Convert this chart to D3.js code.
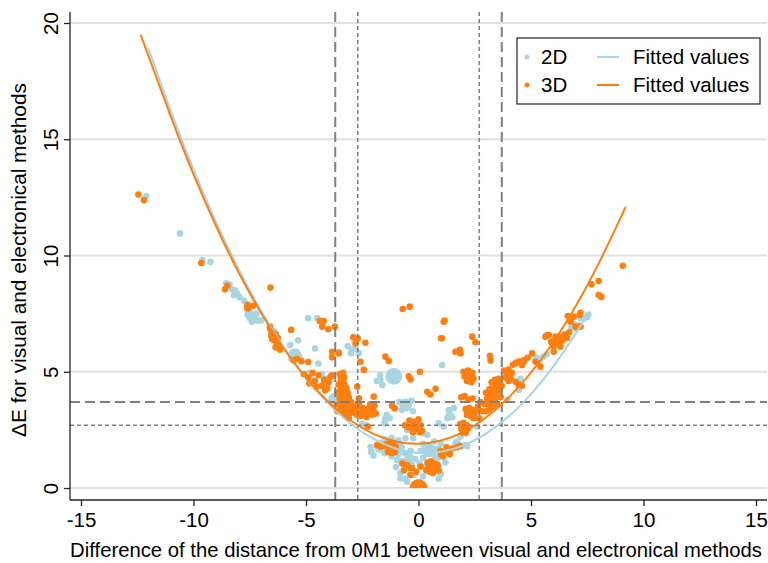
<!DOCTYPE html>
<html>
<head>
<meta charset="utf-8">
<script src="https://cdn.jsdelivr.net/npm/d3@7"></script>
<style>
  body { margin: 0; background: #fff; }
  svg { display: block; font-family: "Liberation Sans", Arial, sans-serif; }
  .tick text { font-size: 20.5px; fill: #000; }
</style>
</head>
<body>
<script>
// ---- data ----
const xTicks = [-15, -10, -5, 0, 5, 10, 15];
const yTicks = [0, 5, 10, 15, 20];
const refX = [[-3.7, "long"], [-2.7, "short"], [2.7, "short"], [3.7, "long"]];
const refY = [[3.7, "long"], [2.7, "short"]];

// [x, y, weight]
const pts2D = [
  [-12.1,12.55],[-10.6,10.95],[-9.6,9.8],[-9.25,9.72],
  [-8.55,8.8],[-8.4,8.75],[-8.3,8.55],[-8.15,8.5],[-8.05,8.35],[-8.2,8.3],[-7.95,8.2],[-7.75,8.05],
  [-7.55,7.6],[-7.45,7.5],[-7.35,7.4],[-7.5,7.3],[-7.3,7.25],[-7.2,7.5],[-7.6,7.45],[-7.15,7.2],[-7.4,7.15],[-7.0,7.2],
  [-6.45,6.65,3],[-5.7,6.15],[-5.35,6.35],[-5.5,5.7,5],[-5.25,5.55],[-5.65,5.55],
  [-4.9,7.3],[-4.5,7.3],[-4.6,6.0],[-4.45,5.35],[-4.85,4.95],[-4.75,4.8],
  [-4.3,4.9],[-4.1,4.7],[-3.95,4.6],[-4.2,4.5],
  [-3.7,3.8,5],[-3.85,3.6],[-3.55,3.55],
  [-3.15,6.1],[-2.95,5.95],[-2.65,5.8],[-3.0,5.8],[-2.8,6.0],[-3.55,5.85],
  [-2.5,2.75],[-2.35,2.7],
  [-1.7,4.85],[-1.7,4.65],[-1.6,4.43],[-1.85,4.6],
  [-1.1,4.8,7],
  [-0.58,3.57,4],[-0.85,3.7],[-0.3,3.75],[-0.75,3.35],[-0.25,3.3],
  [-1.17,3.57],[-1.4,3.15],[-1.47,3.0],[-1.28,3.0],[-1.5,2.78],
  [-0.5,2.49],[-0.58,2.14],[-0.24,2.14],
  [0.9,2.78],[1.28,3.0],[1.35,3.14],[1.12,2.64],[1.35,3.35],[1.42,3.14],[1.57,3.43],[1.5,3.04],
  [0.24,2.35],[0.39,2.28],[1.05,5.29],[2.6,2.64],
  [1.87,2.21],[1.64,1.92],[2.09,1.85],[1.72,1.99],[2.16,1.8],
  [-1.25,1.8,6],[-1.6,1.9,2],[-1.5,2.1],[-1.2,2.15],[-0.9,2.05],[-0.8,1.75,2],[-0.9,1.45],[-1.2,1.35],
  [-1.5,1.5],[-1.75,1.7,2],[-2.13,1.76],[-2.1,1.55],[-2.0,1.4],
  [-0.95,1.2],[-1.0,0.9],[-0.8,0.65],[-0.6,0.4],[-0.5,0.27],[-0.2,0.56],[-0.8,0.42],[-0.4,1.3,2],[-0.6,1.5],[-0.3,1.0],
  [-0.7,1.1,2],[-0.35,1.6],[-0.15,1.25],
  [0.46,1.63,5],[0.2,1.9],[0.1,1.6],[0.2,1.3],[0.5,1.1],[0.8,1.3,2],[0.85,1.7],[0.7,2.0],[1.0,1.9],[1.1,1.5],
  [0.9,0.9],[0.6,0.7],[0.3,0.9],[1.0,0.6],[0.9,0.4],[0.2,0.5],[1.2,1.1],[0.05,1.05],
  [3.94,3.78],[4.46,4.22],[4.53,4.7],
  [5.25,5.6],[5.4,5.5],[5.55,5.65],[5.7,5.75],[5.35,5.35],
  [7.2,7.3],[7.35,7.3],[7.5,7.35],[7.55,7.45],[6.9,7.05],[6.8,6.9],[7.0,6.85],[7.1,7.0]
];

const pts3D = [
  [-12.45,12.62],[-12.2,12.38],[-9.65,9.68],[-8.6,8.55],[-8.5,8.7],
  [-7.6,7.88],[-7.58,7.72],[-7.35,7.84],[-7.62,7.75],
  [-6.58,8.62],[-6.6,6.94],[-5.66,6.8],
  [-6.6,6.85],[-6.5,6.7],[-6.45,6.5],[-6.35,6.6],[-6.4,6.35],[-6.3,6.25],[-6.25,6.45],[-6.2,6.1],
  [-6.15,5.95],[-6.5,6.4],[-6.55,6.55],[-6.35,6.05],
  [-5.55,5.5],[-5.2,5.45],[-4.9,5.42],[-5.4,5.55],
  [-4.39,7.18],[-4.21,7.18],[-4.28,6.94],[-4.01,6.83],[-3.72,6.94],
  [-3.84,5.86],[-3.54,5.79],[-3.84,5.62],
  [-2.9,6.48],[-2.7,6.44],[-2.8,6.22],[-2.36,6.25],
  [-2.58,5.43],[-2.43,5.08],
  [-5.1,4.9],[-4.9,4.75],[-4.7,4.95],[-4.6,4.6],[-4.45,4.85],[-4.3,4.4],[-4.2,4.65],[-4.05,4.3],
  [-4.55,4.35],[-4.85,4.5],[-4.0,4.55],[-4.15,4.2],
  [-3.91,4.79],[-3.84,4.85],
  [-3.5,4.9],[-3.35,4.95],[-3.3,4.75],[-3.45,4.6],[-3.55,4.45],[-3.3,4.5],[-3.2,4.3],[-3.45,4.25],
  [-3.6,4.1],[-3.35,4.05],[-3.15,4.1],[-3.5,3.85],[-3.3,3.8],[-3.1,3.9],[-3.55,3.6],[-3.4,3.55],
  [-3.2,3.6],[-3.0,3.7],[-3.45,3.35],[-3.25,3.35],[-3.05,3.45],[-2.9,3.55],[-3.6,3.3],[-3.3,3.15],[-3.1,3.2],
  [-3.4,4.4],[-3.25,4.2],[-3.4,3.95],[-3.2,3.75],[-3.35,3.45],[-3.15,3.5],[-3.5,4.15],[-3.45,4.75],
  [-2.85,3.35],[-2.7,3.5],[-2.6,3.3],[-2.5,3.45],[-2.4,3.2],[-2.3,3.4],[-2.2,3.25],[-2.1,3.45],
  [-2.0,3.3],[-1.9,3.2],[-2.75,3.15],[-2.55,3.1],[-2.3,3.05],[-1.95,3.55],[-2.65,3.65],[-2.15,3.6],
  [-2.95,3.25],[-2.8,3.45],[-2.45,3.35],[-2.05,3.15],
  [-2.72,4.36],[-2.65,3.86],[-1.99,3.93],[-2.24,2.64],[-3.1,3.0],[-3.47,3.57],
  [-0.7,7.7],[-0.39,7.8],[1.12,7.15],[1.0,6.44],
  [-1.47,5.65],[-1.32,5.46],
  [-0.43,4.8],[-0.35,4.67],[0.06,5.0],
  [0.39,4.14],[0.53,4.02],[0.76,4.27],
  [-1.17,3.53],[-1.05,3.42],
  [-0.4,2.9],[-0.2,2.85],[0,2.95],[-0.3,2.65],[-0.1,2.55],[0.1,2.7],[-0.45,2.6],[0.15,2.45],
  [-0.05,2.75],[-0.25,2.4],[-0.6,2.7],[0.05,2.4],
  [-1.4,1.9],[-1.25,1.95],[-1.1,1.85],[-1.3,1.7],[-1.15,1.65],[-1.0,1.75],[-1.35,1.55],[-1.2,1.5],
  [-1.05,1.55],[-1.84,1.85],[-1.69,1.78],[-1.5,1.8],[-1.2,1.75,3],
  [-0.72,1.06],[-0.5,0.99],[-0.65,0.77],[-0.36,0.56],[-0.28,0.85],[-0.36,0.85],[0.09,0.92],[-0.1,0.7],
  [0.4,1.1],[0.55,1.15],[0.7,1.05],[0.85,1.0],[0.45,0.9],[0.6,0.85],[0.75,0.8],[0.9,0.75],
  [0.5,0.7],[0.65,0.65],[0.35,0.75],[0.6,0.95,2],
  [1.0,1.45],[1.2,1.55],[1.35,1.65],[1.5,1.7],[1.7,1.75],[1.1,1.35],[1.4,1.45],[1.85,1.8],[0.98,1.6],[1.25,1.75],
  [0,0,8],
  [1.16,7.2],[1.05,6.44],[2.39,6.51],[2.53,6.27],[1.64,5.86],[1.84,5.94],[1.87,5.79],[3.17,5.69],[3.2,5.48],
  [2.0,5.0],[2.2,5.05],[2.4,4.95],[2.05,4.8],[2.25,4.75],[2.45,4.7],[2.15,4.6],[2.35,4.55],[2.1,4.9],[2.3,4.9],
  [2.22,4.82,3],
  [1.9,3.9],[2.05,3.95],[2.2,3.8],[2.4,3.85],
  [2.1,3.4],[2.25,3.45],[2.4,3.35],[2.5,3.2],[2.15,3.15],[2.3,3.1],[2.45,3.0],[2.2,3.3],[2.35,3.25],[2.6,3.35],
  [2.3,3.25,3],
  [1.85,2.75],[2.0,2.8],[2.15,2.7],[1.9,2.55],[2.05,2.5],[2.2,2.55],[1.95,2.4],[2.1,2.38],[2.03,2.6,2],
  [2.65,3.5],[2.75,3.7],[2.7,3.0],[2.8,3.3],
  [3.0,3.3],[3.15,3.4],[3.3,3.5],[3.1,3.6],[3.25,3.75],[3.4,3.8],[3.05,3.85],[3.2,4.0],[3.35,4.1],
  [3.5,4.0],[3.6,4.2],[3.15,4.25],[3.3,4.35],[3.45,4.45],[3.6,4.55],[3.7,4.4],[3.25,4.55],[3.4,4.65],
  [3.55,4.7],[3.0,4.1],[2.95,3.6],[3.5,3.6],[3.65,3.9],[3.35,3.95,3],[3.45,4.3,2],
  [3.8,5.05],[3.95,4.85],[4.1,4.7],[4.0,4.6],[3.85,4.75],[4.15,4.95],
  [4.0,5.1],[4.2,5.3],[4.35,5.4],[4.5,5.45],[4.6,5.3],[4.7,5.5],[4.85,5.6],[4.31,5.36],
  [4.6,5.29],[4.68,5.43],[5.05,5.79],
  [4.31,4.57],[4.45,4.45],[4.6,4.4],
  [5.72,6.58],[6.09,6.51],[6.24,6.15],[6.01,5.86],[5.42,5.22],[5.2,5.43],[5.64,6.51],[5.79,6.58],
  [5.9,6.3],[6.1,6.4],[6.3,6.5],[6.5,6.6],[6.7,6.7],[6.2,6.2],[6.4,6.35],[6.6,6.45],[6.0,6.1],[5.94,6.22],[6.31,6.08],
  [6.64,7.4],[6.9,7.37],[7.2,7.54],[7.17,7.44],[6.76,7.15],[6.98,6.94],[7.2,6.94],
  [8.01,8.9],[7.69,8.76],[8.01,8.3],[8.13,8.22],[9.08,9.56]
];

// fitted curves, read at whole units
const fit2D = [[-12,18.9],[-11,16.2],[-10,13.7],[-9,11.45],[-8,9.42],[-7,7.63],[-6,6.06],[-5,4.73],
  [-4,3.63],[-3,2.75],[-2,2.11],[-1,1.69],[0,1.51],[1,1.56],[2,1.83],[3,2.34],[4,3.07],[5,4.04],
  [6,5.24],[7,6.66],[7.6,7.6]];
const fit3D = [[-12.35,19.5],[-11,15.95],[-10,13.49],[-9,11.27],[-8,9.28],[-7,7.54],[-6,6.02],[-5,4.74],
  [-4,3.7],[-3,2.89],[-2,2.33],[-1,2.0],[0,1.9],[1,2.04],[2,2.41],[3,3.03],[4,3.88],[5,4.96],
  [6,6.28],[7,7.84],[8,9.64],[9,11.66],[9.2,12.1]];

const blue = "#a9d5e3", orange = "#ff7f0e";

// ---- layout ----
const W = 768, H = 563;
const plot = {left: 70, right: 767, top: 12, bottom: 500};

const svg = d3.select("body").append("svg")
    .attr("width", W).attr("height", H);

const x = d3.scaleLinear().domain([-15, 15]).range([81, 756]);
const y = d3.scaleLinear().domain([0, 20]).range([488, 23]);
const size = d3.scaleSqrt().domain([1, 8]).range([3.3, 9]);

// markers stop at the zero line
svg.append("defs").append("clipPath").attr("id", "clip")
  .append("rect")
    .attr("x", plot.left).attr("y", plot.top)
    .attr("width", plot.right - plot.left).attr("height", y(0) - plot.top);

// gridlines
svg.append("g").selectAll("line")
    .data(yTicks).enter().append("line")
    .attr("x1", plot.left).attr("x2", plot.right)
    .attr("y1", d => y(d)).attr("y2", d => y(d))
    .attr("stroke", "#e1e1e1").attr("stroke-width", 2);

// points
svg.append("g").attr("clip-path", "url(#clip)")
    .selectAll("circle")
    .data(pts2D).enter().append("circle")
    .attr("cx", d => x(d[0])).attr("cy", d => y(d[1]))
    .attr("r", d => size(d[2] || 1))
    .attr("fill", blue);

svg.append("g").attr("clip-path", "url(#clip)")
    .selectAll("circle")
    .data(pts3D).enter().append("circle")
    .attr("cx", d => x(d[0])).attr("cy", d => y(d[1]))
    .attr("r", d => size(d[2] || 1))
    .attr("fill", orange);

// reference lines
const dash = {long: "10,5", short: "4,3"};
svg.append("g").selectAll("line")
    .data(refX).enter().append("line")
    .attr("x1", d => x(d[0])).attr("x2", d => x(d[0]))
    .attr("y1", plot.top).attr("y2", plot.bottom)
    .attr("stroke", "#808080")
    .attr("stroke-width", d => d[1] == "long" ? 2 : 1.6)
    .attr("stroke-dasharray", d => dash[d[1]]);

svg.append("g").selectAll("line")
    .data(refY).enter().append("line")
    .attr("x1", plot.left).attr("x2", plot.right)
    .attr("y1", d => y(d[0])).attr("y2", d => y(d[0]))
    .attr("stroke", "#808080")
    .attr("stroke-width", d => d[1] == "long" ? 2 : 1.6)
    .attr("stroke-dasharray", d => dash[d[1]]);

// fitted lines
const line = d3.line().x(d => x(d[0])).y(d => y(d[1])).curve(d3.curveNatural);
svg.append("path").datum(fit2D).attr("d", line)
    .attr("fill", "none").attr("stroke", blue).attr("stroke-width", 2);
svg.append("path").datum(fit3D).attr("d", line)
    .attr("fill", "none").attr("stroke", orange).attr("stroke-width", 2);

// axes
svg.append("line")
    .attr("x1", plot.left).attr("x2", plot.right)
    .attr("y1", plot.bottom).attr("y2", plot.bottom)
    .attr("stroke", "#222").attr("stroke-width", 1.3);
svg.append("line")
    .attr("x1", plot.left).attr("x2", plot.left)
    .attr("y1", plot.top).attr("y2", plot.bottom)
    .attr("stroke", "#222").attr("stroke-width", 1.3);

const xAxis = svg.append("g")
    .attr("transform", "translate(0," + plot.bottom + ")")
    .call(d3.axisBottom(x).tickValues(xTicks).tickSize(6).tickPadding(6).tickFormat(d3.format("d")));
xAxis.select(".domain").remove();
xAxis.selectAll(".tick line").attr("stroke", "#222").attr("stroke-width", 1.3);
xAxis.selectAll(".tick text").text(d => d < 0 ? "-" + Math.abs(d) : d);

const yAxis = svg.append("g")
    .attr("transform", "translate(" + plot.left + ",0)")
    .call(d3.axisLeft(y).tickValues(yTicks).tickSize(6));
yAxis.select(".domain").remove();
yAxis.selectAll(".tick line").attr("stroke", "#222").attr("stroke-width", 1.3);
yAxis.selectAll(".tick text")
    .attr("transform", "rotate(-90)")
    .attr("x", 0).attr("y", -12).attr("dy", 0)
    .attr("text-anchor", "middle");

// axis titles
svg.append("text")
    .attr("x", 416).attr("y", 557)
    .attr("text-anchor", "middle")
    .style("font-size", "20.3px")
    .text("Difference of the distance from 0M1 between visual and electronical methods");

svg.append("text")
    .attr("transform", "translate(26,260) rotate(-90)")
    .attr("text-anchor", "middle")
    .style("font-size", "20.8px")
    .text("ΔE for visual and electronical methods");

// legend
const legend = svg.append("g").attr("transform", "translate(517,38)");
legend.append("rect")
    .attr("width", 243).attr("height", 66)
    .attr("fill", "#fff").attr("stroke", "#222").attr("stroke-width", 1.2);

const legItems = [["2D", blue], ["3D", orange]];
legItems.forEach((d, i) => {
    const cy = 19 + i * 28;
    legend.append("circle").attr("cx", 10).attr("cy", cy).attr("r", 2.5).attr("fill", d[1]);
    legend.append("text").attr("x", 24).attr("y", cy + 7).style("font-size", "20.5px").text(d[0]);
    legend.append("line").attr("x1", 80).attr("x2", 102).attr("y1", cy).attr("y2", cy)
        .attr("stroke", d[1]).attr("stroke-width", 2);
    legend.append("text").attr("x", 116).attr("y", cy + 7).style("font-size", "20.5px").text("Fitted values");
});
</script>
</body>
</html>
